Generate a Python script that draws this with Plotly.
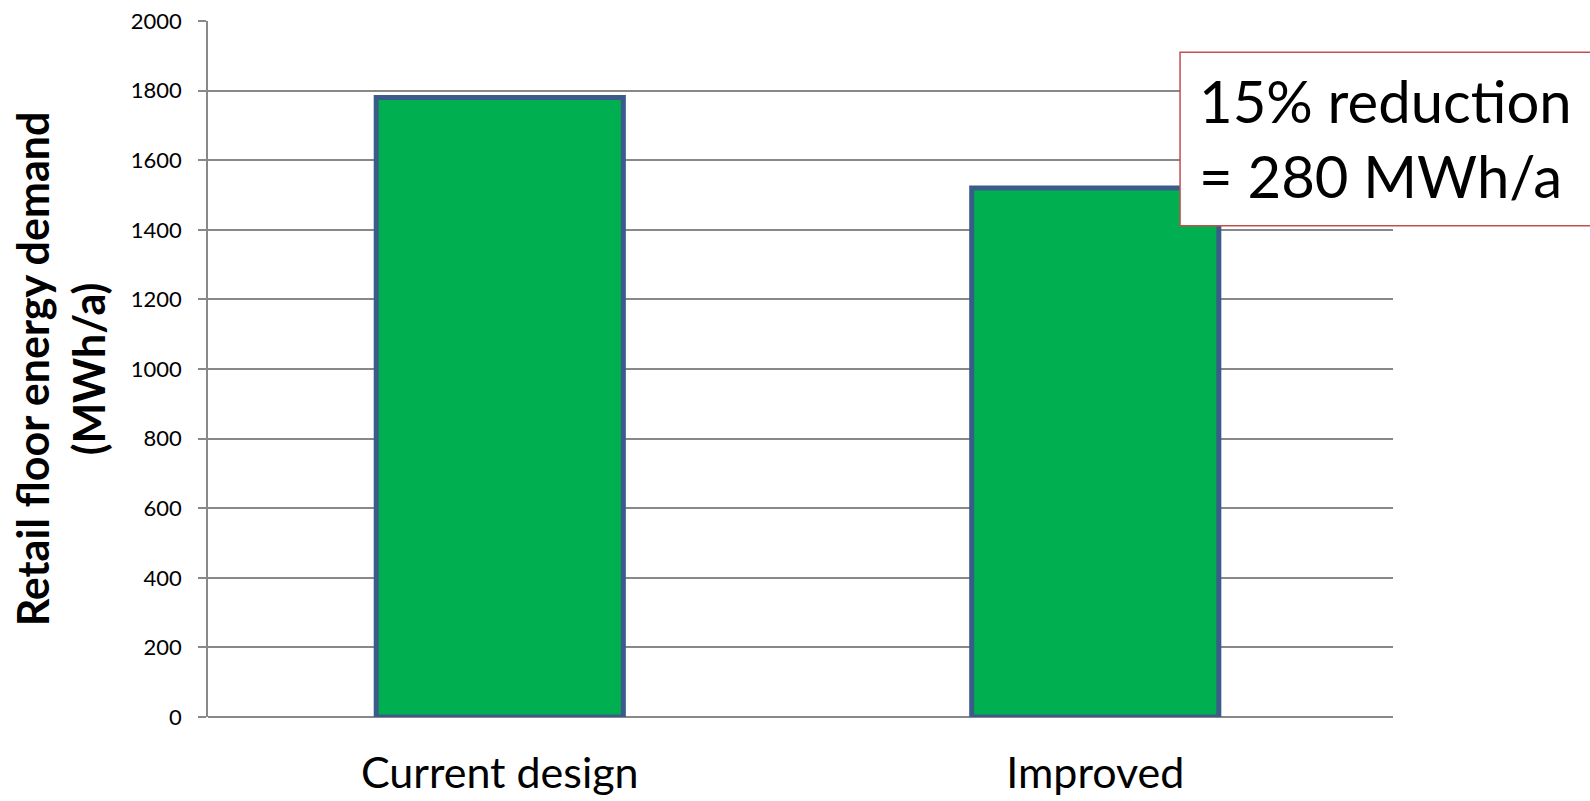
import plotly.graph_objects as go

categories = ["Current design", "Improved"]
demand = [1780, 1520]
y_ticks = [0, 200, 400, 600, 800, 1000, 1200, 1400, 1600, 1800, 2000]
note_text = "15% reduction<br>= 280 MWh/a"
y_title = "Retail floor energy demand<br>(MWh/a)"

fig = go.Figure()
fig.add_trace(go.Bar(
    x=categories, y=demand,
    marker=dict(color="#00b050", line=dict(color="#3b5c8b", width=5)),
    hoverinfo="skip",
))

grid = "#888888"
fig.update_layout(
    width=1590, height=801,
    margin=dict(l=208, r=197, t=21, b=84),
    paper_bgcolor="white", plot_bgcolor="white",
    showlegend=False,
    bargap=0.585,
    font=dict(family="Lato", color="black"),
    xaxis=dict(
        type="category", range=[-0.49, 1.5], automargin=False,
        showgrid=False, showline=False, ticks="",
        tickfont=dict(size=43, family="Lato", color="black"),
        ticklabelstandoff=27,
        zeroline=False,
    ),
    yaxis=dict(
        range=[0, 2000], tickvals=y_ticks, automargin=False,
        showgrid=True, gridcolor=grid, gridwidth=1.5,
        showline=True, linecolor=grid, linewidth=1.5,
        ticks="outside", ticklen=8, tickcolor=grid, tickwidth=1.5,
        tickfont=dict(size=22, family="Lato", color="black"),
        ticklabelstandoff=12,
        zeroline=True, zerolinecolor=grid, zerolinewidth=1.5,
        title=dict(text=y_title, standoff=12,
                   font=dict(size=43, family="Lato", weight="bold", color="black")),
    ),
    shapes=[dict(
        type="rect", xref="paper", yref="paper",
        x0=0.8203, x1=1.5, y0=0.7058, y1=0.955,
        line=dict(color="#c0504d", width=1.5), fillcolor="white", layer="above",
    )],
    annotations=[dict(
        text=note_text, xref="paper", yref="paper",
        x=0.8348, y=0.832, xanchor="left", yanchor="middle", align="left",
        showarrow=False, font=dict(size=58, family="Lato", color="black"),
    )],
)

fig.write_html("out.html")
